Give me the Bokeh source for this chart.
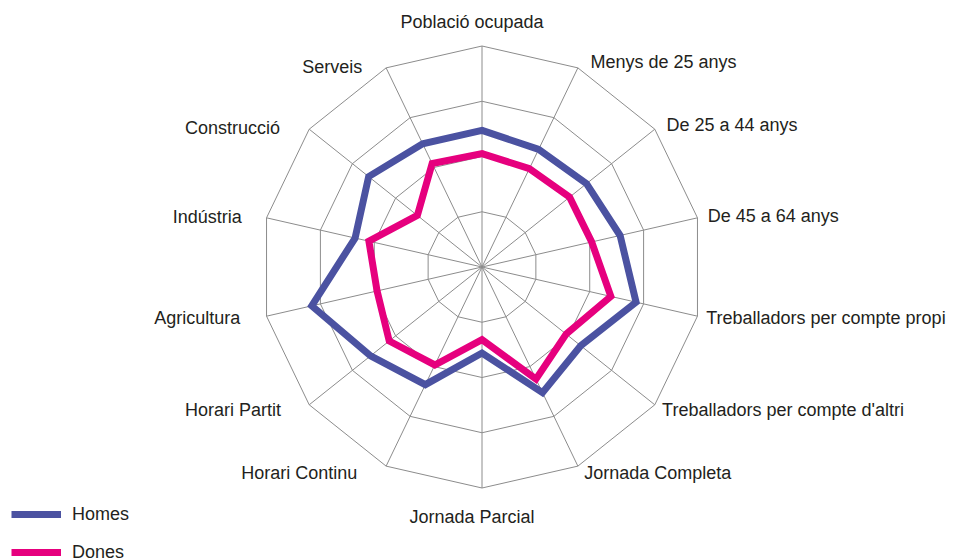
import numpy as np
from bokeh.plotting import figure
from bokeh.models import Range1d, ColumnDataSource, Legend, LegendItem
from bokeh.core.properties import value
from bokeh.embed import file_html
from bokeh.resources import INLINE

# ---------------- data ----------------
categories = [
    "Població ocupada",
    "Menys de 25 anys",
    "De 25 a 44 anys",
    "De 45 a 64 anys",
    "Treballadors per compte propi",
    "Treballadors per compte d'altri",
    "Jornada Completa",
    "Jornada Parcial",
    "Horari Continu",
    "Horari Partit",
    "Agricultura",
    "Indústria",
    "Construcció",
    "Serveis",
]
homes = [61.8, 59.1, 60.5, 64.1, 71.5, 57.1, 63.1, 38.9, 59.1, 64.5, 79.0, 58.9, 65.6, 61.9]
dones = [51.3, 49.4, 50.7, 50.9, 59.8, 48.7, 56.3, 32.9, 49.2, 53.7, 48.7, 52.5, 37.4, 52.0]
ring_levels = [25, 50, 75, 100]
max_value = 100
series_names = ["Homes", "Dones"]

# ---------------- style / layout ----------------
W, H = 969, 560
CX, CY = 481.5, 266.5          # centre, pixels from top-left of the canvas
R = 221                         # outer radius in pixels
FONT = "Liberation Sans"
FONT_SIZE = "18px"
TEXT_COLOR = "#231f20"
GRID_COLOR = "#8c8c8c"
COLORS = ["#4b52a1", "#e6007e"]

p = figure(width=W, height=H,
           x_range=Range1d(-CX, W - CX), y_range=Range1d(-(H - CY), CY),
           output_backend="svg", toolbar_location=None,
           x_axis_type=None, y_axis_type=None, min_border=0)
p.outline_line_color = None
p.background_fill_color = "white"
p.border_fill_color = "white"

n = len(categories)
theta = 2 * np.pi * np.arange(n) / n
ux = np.sin(theta)
uy = np.cos(theta)

# rings
for lvl in ring_levels:
    r = lvl / max_value * R
    xs = list(r * ux) + [r * ux[0]]
    ys = list(r * uy) + [r * uy[0]]
    p.line(xs, ys, line_color=GRID_COLOR, line_width=1)

# spokes
p.segment(x0=np.zeros(n), y0=np.zeros(n), x1=R * ux, y1=R * uy,
          line_color=GRID_COLOR, line_width=1)

# series
renderers = []
for vals, col in zip([homes, dones], COLORS):
    r = np.array(vals) / max_value * R
    x = r * ux
    y = r * uy
    xs = list(x) + [x[0], x[1]]
    ys = list(y) + [y[0], y[1]]
    rr = p.line(xs, ys, line_color=col, line_width=7, line_join="miter")
    renderers.append(rr)

# category labels
left_lbl = dict(x=[], y=[], t=[])
right_lbl = dict(x=[], y=[], t=[])
center_lbl = dict(x=[], y=[], t=[])
for k, name in enumerate(categories):
    vx, vy = R * ux[k], R * uy[k]
    if abs(ux[k]) < 0.01:
        center_lbl["x"].append(vx - 10)
        center_lbl["y"].append(vy + 24 if uy[k] > 0 else vy - 29)
        center_lbl["t"].append(name)
    elif ux[k] > 0:
        dy = 8 * max(0, -uy[k]) - 7 * max(0, uy[k])
        right_lbl["x"].append(vx + 9.5 + 3.5 * uy[k])
        right_lbl["y"].append(vy - dy)
        right_lbl["t"].append(name)
    else:
        dy = 8 * max(0, -uy[k]) - 1.5 * max(0, uy[k])
        left_lbl["x"].append(vx - (9.5 + 3.5 * uy[k]) - 1.6 * len(name))
        left_lbl["y"].append(vy - dy)
        left_lbl["t"].append(name)

for d, align in [(left_lbl, "right"), (right_lbl, "left"), (center_lbl, "center")]:
    p.text(x="x", y="y", text="t", source=ColumnDataSource(d),
           text_align=align, text_baseline="middle",
           text_font=value(FONT), text_font_size=FONT_SIZE,
           text_color=TEXT_COLOR)

# legend
legend = Legend(items=[LegendItem(label=nm, renderers=[rr])
                       for nm, rr in zip(series_names, renderers)],
                location=(11, -3), orientation="vertical",
                border_line_color=None, background_fill_alpha=0,
                padding=0, margin=0, spacing=16,
                glyph_width=50, glyph_height=22, label_height=22,
                label_standoff=11,
                label_text_font=FONT, label_text_font_size=FONT_SIZE,
                label_text_color=TEXT_COLOR)
p.add_layout(legend)

open("out.html", "w").write(file_html(p, INLINE))
